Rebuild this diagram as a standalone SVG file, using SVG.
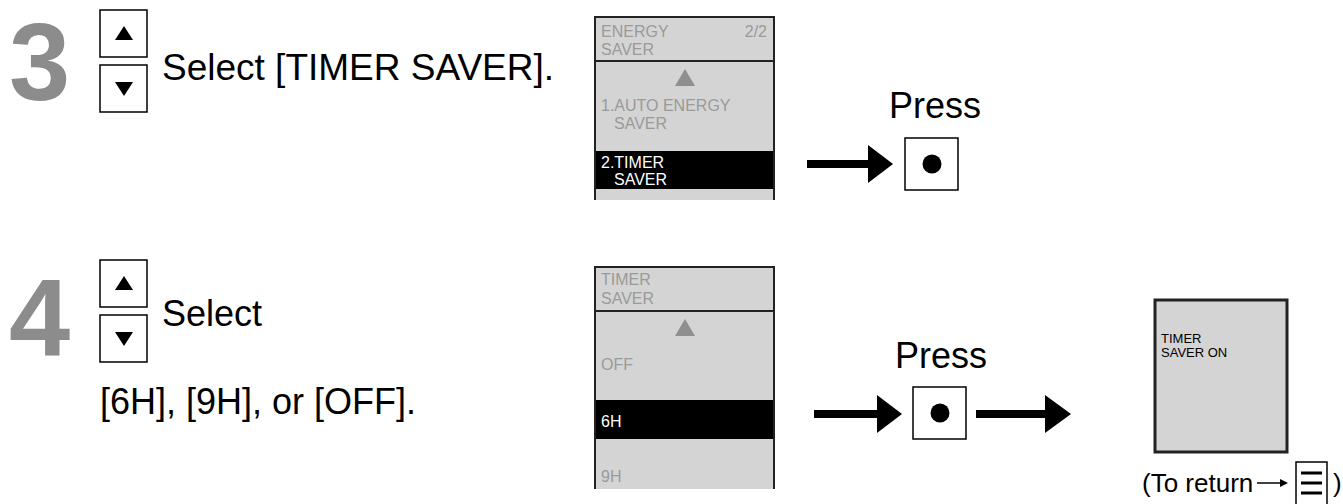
<svg xmlns="http://www.w3.org/2000/svg" width="1343" height="504" viewBox="0 0 1343 504">
<style>
.step{font-family:"Liberation Sans",Arial,sans-serif;font-weight:bold;font-size:110px;fill:#8c8c8c}
.t{font-family:"Liberation Sans",Arial,sans-serif;fill:#000}
.big{font-size:36px}
.scr{font-family:"Liberation Sans",Arial,sans-serif;font-size:16px;fill:#9a9a9a}
.sel{font-family:"Liberation Sans",Arial,sans-serif;font-size:16px;fill:#fff}
.key{fill:#fff;stroke:#000;stroke-width:1.5}
.panel{fill:#d4d4d4}
.edge{stroke:#222;stroke-width:2;fill:none}
.shaft{stroke:#000;stroke-width:8}
</style>
<defs>
<g id="updown">
<rect class="key" x="0" y="0" width="47" height="47"/>
<polygon points="24,16 33,30 15,30" fill="#000"/>
<rect class="key" x="0" y="55" width="47" height="47"/>
<polygon points="15,72 33,72 24,86" fill="#000"/>
</g>
<g id="okbtn">
<rect class="key" x="0" y="0" width="53" height="52"/>
<circle cx="27" cy="26" r="9.5" fill="#000"/>
</g>
</defs>

<g id="step3">
<text class="step" x="9" y="100">3</text>
<use href="#updown" x="100" y="10"/>
<text class="t" x="162" y="80" font-size="37">Select [TIMER SAVER].</text>
</g>

<g id="screen1">
<rect class="panel" x="595" y="17" width="180" height="183"/>
<rect x="595" y="151" width="180" height="38" fill="#000"/>
<path class="edge" d="M595,200 V17 H774 V200 M595,61 H774"/>
<text class="scr" x="601" y="37">ENERGY</text>
<text class="scr" x="767" y="37" text-anchor="end">2/2</text>
<text class="scr" x="601" y="55">SAVER</text>
<polygon points="685,69 695,86 675,86" fill="#8f8f8f"/>
<text class="scr" x="601" y="111">1.AUTO ENERGY</text>
<text class="scr" x="614" y="129">SAVER</text>
<text class="sel" x="601" y="168">2.TIMER</text>
<text class="sel" x="614" y="185">SAVER</text>
</g>

<g id="press1">
<text class="t big" x="889" y="118">Press</text>
<use href="#okbtn" x="905" y="138"/>
</g>

<g id="step4">
<text class="step" x="9" y="355">4</text>
<use href="#updown" x="100" y="260"/>
<text class="t big" x="162" y="326">Select</text>
<text class="t big" x="100" y="414">[6H], [9H], or [OFF].</text>
</g>

<g id="screen2">
<rect class="panel" x="595" y="267" width="180" height="222"/>
<rect x="595" y="400" width="180" height="39" fill="#000"/>
<path class="edge" d="M595,489 V267 H774 V489 M595,311 H774"/>
<text class="scr" x="601" y="285">TIMER</text>
<text class="scr" x="601" y="304">SAVER</text>
<polygon points="685,319 695,336 675,336" fill="#8f8f8f"/>
<text class="scr" x="601" y="370">OFF</text>
<text class="sel" x="601" y="427">6H</text>
<text class="scr" x="601" y="482">9H</text>
</g>

<g id="press2">
<text class="t big" x="895" y="368">Press</text>
<use href="#okbtn" x="913" y="387"/>
</g>

<g id="screen3">
<rect x="1155" y="300" width="132" height="152" fill="#d4d4d4" stroke="#222" stroke-width="3"/>
<text class="t" x="1161" y="343" font-size="13" fill="#222">TIMER</text>
<text class="t" x="1161" y="357" font-size="13" fill="#222">SAVER ON</text>
</g>

<g id="return">
<text class="t" x="1142" y="492" font-size="26">(To return</text>
<path d="M1257,483 H1282" stroke="#000" stroke-width="1.5"/>
<polygon points="1288,483 1280,479 1280,487" fill="#000"/>
<rect class="key" x="1296" y="462" width="31" height="44"/>
<path d="M1301,473 H1322 M1301,483 H1322 M1301,493 H1322" stroke="#000" stroke-width="3"/>
<text class="t" x="1333" y="492" font-size="26">)</text>
</g>

<g id="connectors">
<line class="shaft" x1="807" y1="164" x2="872" y2="164"/>
<polygon points="868,145 893,164 868,183" fill="#000"/>
<line class="shaft" x1="814" y1="414" x2="880" y2="414"/>
<polygon points="877,395 902,414 877,433" fill="#000"/>
<line class="shaft" x1="976" y1="414" x2="1048" y2="414"/>
<polygon points="1045,395 1071,414 1045,433" fill="#000"/>
</g>
</svg>
